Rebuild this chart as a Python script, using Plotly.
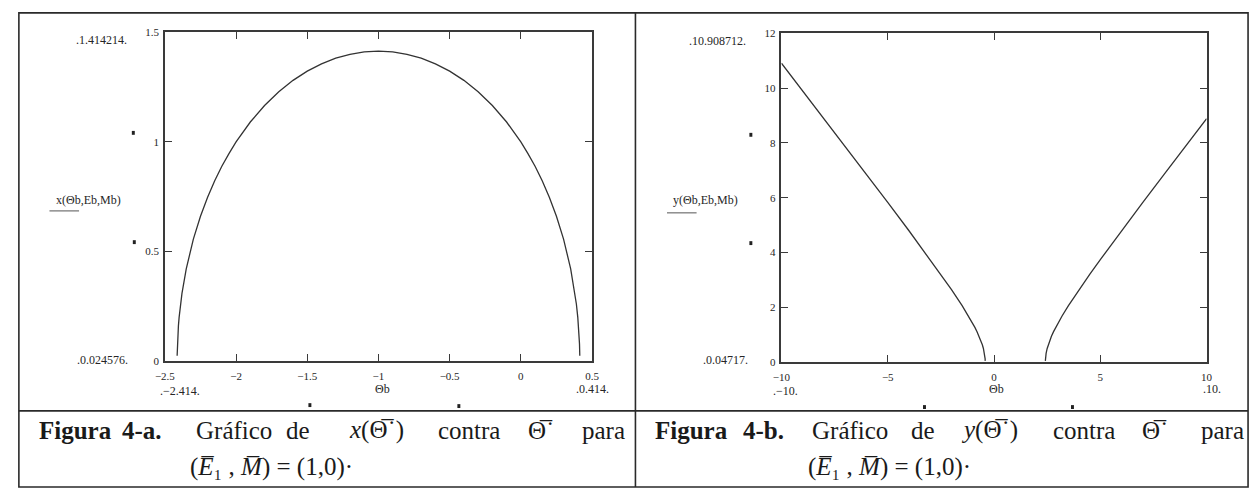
import plotly.graph_objects as go

# ---- data: x(Theta) for (E1, M) = (1, 0) ----
theta_a = [-2.414, -2.412, -2.405, -2.40, -2.39, -2.38, -2.35, -2.30, -2.25, -2.20,
           -2.15, -2.10, -2.05, -2.00, -1.90, -1.80, -1.70, -1.60, -1.50, -1.40,
           -1.30, -1.20, -1.10, -1.00, -0.90, -0.80, -0.70, -0.60, -0.50, -0.40,
           -0.30, -0.20, -0.10, -0.05, 0.00, 0.05, 0.10, 0.15, 0.20, 0.25,
           0.30, 0.35, 0.38, 0.39, 0.40, 0.405, 0.412, 0.414]
x_a = [0.025, 0.079, 0.161, 0.200, 0.261, 0.309, 0.421, 0.557, 0.661, 0.748,
       0.823, 0.889, 0.947, 1.000, 1.091, 1.166, 1.229, 1.281, 1.323, 1.356,
       1.382, 1.400, 1.411, 1.414, 1.411, 1.400, 1.382, 1.356, 1.323, 1.281,
       1.229, 1.166, 1.091, 1.047, 1.000, 0.947, 0.889, 0.823, 0.748, 0.661,
       0.557, 0.421, 0.309, 0.261, 0.200, 0.161, 0.079, 0.025]

# ---- data: y(Theta) for (E1, M) = (1, 0), two branches ----
theta_b_left = [-10, -9, -8, -7, -6, -5, -4, -3, -2.5, -2, -1.5, -1.2, -1.1, -1.0,
                -0.9, -0.8, -0.7, -0.6, -0.55, -0.5, -0.45, -0.43, -0.42, -0.414]
y_b_left = [10.909, 9.899, 8.888, 7.874, 6.856, 5.831, 4.796, 3.742, 3.202, 2.646,
            2.062, 1.685, 1.552, 1.414, 1.269, 1.114, 0.943, 0.748, 0.634, 0.500,
            0.320, 0.212, 0.128, 0.047]
theta_b_right = [2.414, 2.42, 2.43, 2.45, 2.5, 2.55, 2.6, 2.7, 2.8, 2.9, 3.0, 3.1,
                 3.2, 3.5, 4, 4.5, 5, 6, 7, 8, 9, 10]
y_b_right = [0.047, 0.128, 0.212, 0.320, 0.500, 0.634, 0.748, 0.943, 1.114, 1.269,
             1.414, 1.552, 1.685, 2.062, 2.646, 3.202, 3.742, 4.796, 5.831, 6.856,
             7.874, 8.888]

# ---- axis ticks ----
xa_ticks = [-2.5, -2, -1.5, -1, -0.5, 0, 0.5]
xa_labels = ["\u22122.5", "\u22122", "\u22121.5", "\u22121", "\u22120.5", "0", "0.5"]
ya_ticks = [0, 0.5, 1, 1.5]
ya_labels = ["0", "0.5", "1", "1.5"]
xb_ticks = [-10, -5, 0, 5, 10]
xb_labels = ["\u221210", "\u22125", "0", "5", "10"]
yb_ticks = [0, 2, 4, 6, 8, 10, 12]
yb_labels = ["0", "2", "4", "6", "8", "10", "12"]

W, H = 1259, 496
INK = "#262626"
SERIF = "Liberation Serif"


def px(x):
    return x / W


def py(y):
    return 1 - y / H


fig = go.Figure()
curve = dict(color="#333333", width=1.3)
fig.add_trace(go.Scatter(x=theta_a, y=x_a, mode="lines", xaxis="x", yaxis="y",
                         line=curve, showlegend=False))
fig.add_trace(go.Scatter(x=theta_b_left, y=y_b_left, mode="lines", xaxis="x2", yaxis="y2",
                         line=curve, showlegend=False))
fig.add_trace(go.Scatter(x=theta_b_right, y=y_b_right, mode="lines", xaxis="x2", yaxis="y2",
                         line=curve, showlegend=False))

axis_common = dict(showgrid=False, zeroline=False, showline=True, mirror="ticks",
                   linecolor="#3a3a3a", linewidth=1.5, ticks="inside", ticklen=7,
                   tickwidth=1.2, tickcolor="#3a3a3a",
                   tickfont=dict(family=SERIF, size=11, color=INK))

fig.update_layout(
    width=W, height=H, margin=dict(l=0, r=0, t=0, b=0),
    paper_bgcolor="white", plot_bgcolor="white",
    xaxis=dict(domain=[px(157), px(590)], range=[-2.5, 0.5], anchor="y",
               tickvals=xa_ticks, ticktext=xa_labels, ticklabelstandoff=4, **axis_common),
    yaxis=dict(domain=[py(364), py(27)], range=[0, 1.5], anchor="x",
               tickvals=ya_ticks, ticktext=ya_labels, ticklabelstandoff=2, **axis_common),
    xaxis2=dict(domain=[px(782), px(1213)], range=[-10, 10], anchor="y2",
                tickvals=xb_ticks, ticktext=xb_labels, ticklabelstandoff=4, **axis_common),
    yaxis2=dict(domain=[py(365), py(28)], range=[0, 12], anchor="x2",
                tickvals=yb_ticks, ticktext=yb_labels, ticklabelstandoff=2, **axis_common),
)

shapes = []
# outer frame, column divider and caption divider
shapes.append(dict(type="rect", xref="paper", yref="paper", x0=px(9), x1=px(1255),
                   y0=py(493), y1=py(7), line=dict(color="#2a2a2a", width=1.6)))
shapes.append(dict(type="line", xref="paper", yref="paper", x0=px(634), x1=px(634),
                   y0=py(493), y1=py(7), line=dict(color="#2a2a2a", width=1.6)))
shapes.append(dict(type="line", xref="paper", yref="paper", x0=px(9), x1=px(1255),
                   y0=py(415), y1=py(415), line=dict(color="#2a2a2a", width=1.8)))
# short underlines below the function names
for x0, x1, y in [(40, 70, 210), (666, 696, 212)]:
    shapes.append(dict(type="line", xref="paper", yref="paper", x0=px(x0), x1=px(x1),
                       y0=py(y), y1=py(y), line=dict(color="#555555", width=1)))
# small placeholder squares beside the axes
for cx, cy in [(125, 130), (126, 242), (304, 409), (455, 410),
               (751, 132), (751, 243), (927, 411), (1077, 411)]:
    shapes.append(dict(type="rect", xref="paper", yref="paper",
                       x0=px(cx - 1.5), x1=px(cx + 1.5), y0=py(cy + 2), y1=py(cy - 2),
                       fillcolor="#222222", line=dict(width=0)))
fig.update_layout(shapes=shapes)

ann = []


def label(text, x, y, size=12, anchor="center", color=INK):
    ann.append(dict(text=text, x=px(x), y=py(y), xref="paper", yref="paper",
                    showarrow=False, xanchor=anchor, yanchor="middle",
                    font=dict(family=SERIF, size=size, color=color)))


# panel a worksheet labels
label(".1.414214.", 93, 35)
label(".0.024576.", 94, 363)
label("x(\u0398b,Eb,Mb)", 80, 199)
label("\u0398b", 378, 393)
label(".\u22122.414.", 172, 395)
label(".0.414.", 590, 393)
# panel b worksheet labels
label(".10.908712.", 717, 36)
label(".0.04717.", 725, 363)
label("y(\u0398b,Eb,Mb)", 705, 199)
label("\u0398b", 1000, 393)
label(".\u221210.", 786, 395)
label(".10.", 1218, 393)

# captions, one annotation per word so the lines stay justified
TH = "\u0398\u0305\u02d9"
cap_a = [("<b>Figura</b>", 27), ("<b>4-a.</b>", 112), ("Gr\u00e1fico", 187), ("de", 278),
         ("<i>x</i>(" + TH + ")", 342), ("contra", 432), (TH, 523), ("para", 578)]
cap_b = [("<b>Figura</b>", 652), ("<b>4-b.</b>", 741), ("Gr\u00e1fico", 811), ("de", 911),
         ("<i>y</i>(" + TH + ")", 962), ("contra", 1055), (TH, 1145), ("para", 1205)]
for text, x in cap_a + cap_b:
    label(text, x, 435, size=25, anchor="left", color="#1a1a1a")
line2 = "(<i>E\u0305</i>\u2081 , <i>M\u0305</i>) = (1,0)\u00b7"
label(line2, 180, 472, size=25, anchor="left", color="#1a1a1a")
label(line2, 807, 472, size=25, anchor="left", color="#1a1a1a")

fig.update_layout(annotations=ann)
fig.write_html("out.html")
